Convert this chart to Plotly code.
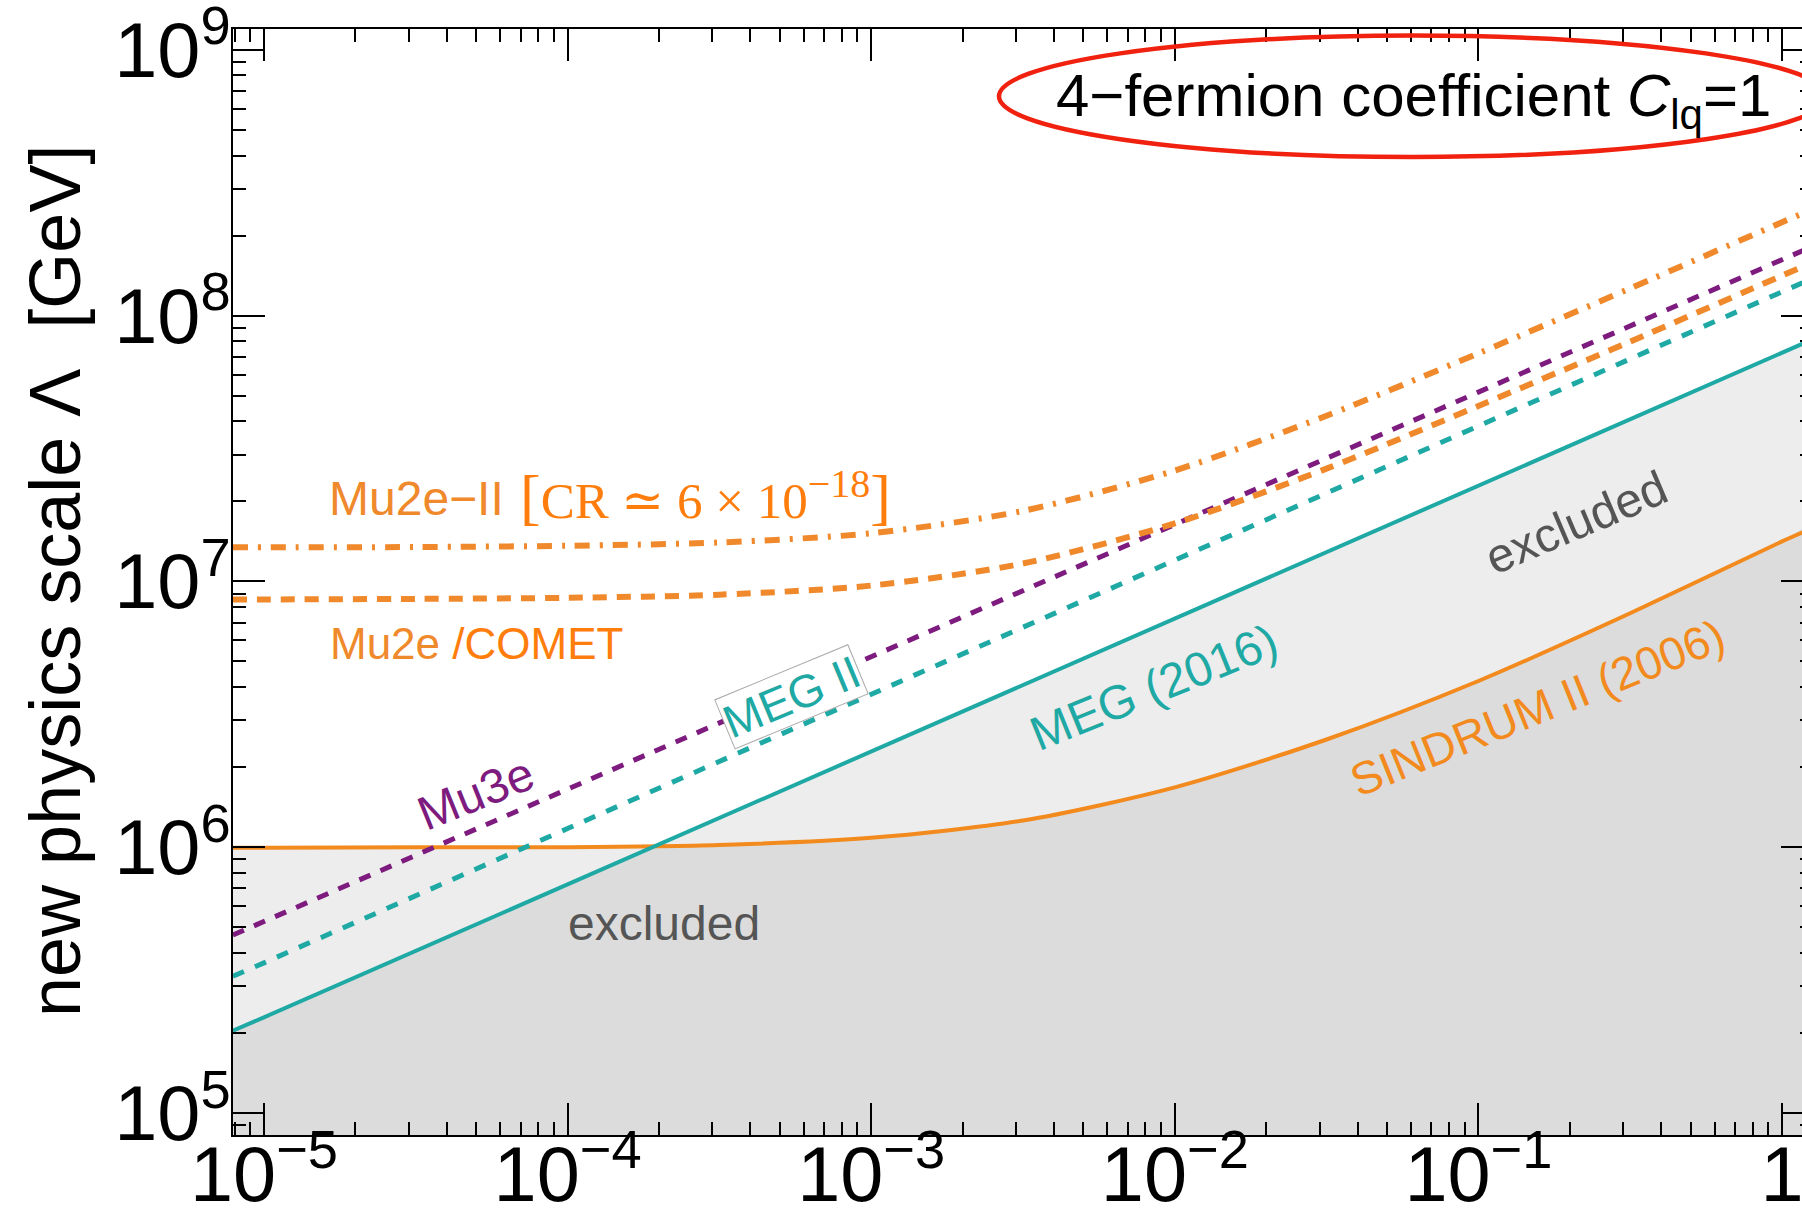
import plotly.graph_objects as go

# ---------------- data ----------------
# curved bounds (x = horizontal axis value, y = Lambda in GeV)
grid_x = [7.9e-6, 1e-5, 3.16e-5, 1e-4, 3.16e-4, 1e-3, 3.16e-3, 1e-2, 3.16e-2, 1e-1, 3.16e-1, 1.0, 1.26]
mu2e_comet_y = [8.55e6, 8.55e6, 8.59e6, 8.67e6, 8.91e6, 9.64e6, 1.167e7, 1.652e7, 2.655e7, 4.57e7, 7.98e7, 1.413e8, 1.585e8]
mu2e_ii_y = [1.343e7, 1.343e7, 1.346e7, 1.361e7, 1.400e7, 1.517e7, 1.841e7, 2.612e7, 4.198e7, 7.21e7, 1.265e8, 2.244e8, 2.512e8]
sindrum_y = [9.95e5, 9.95e5, 9.98e5, 1.0e6, 1.019e6, 1.084e6, 1.259e6, 1.679e6, 2.541e6, 4.217e6, 7.586e6, 1.413e7, 1.585e7]

# straight (power-law) bounds
line_x = [7.9e-6, 1e-5, 1e-4, 1e-3, 1e-2, 1e-1, 1.0, 1.26]
meg_y = [2.04e5, 2.29e5, 7.24e5, 2.29e6, 7.24e6, 2.29e7, 7.24e7, 8.13e7]
meg2_y = [3.27e5, 3.67e5, 1.175e6, 3.76e6, 1.202e7, 3.85e7, 1.23e8, 1.38e8]
mu3e_y = [4.67e5, 5.25e5, 1.652e6, 5.2e6, 1.637e7, 5.15e7, 1.622e8, 1.82e8]

fill_floor = 1e4          # below the visible range, closes the excluded regions
x_range_log = [-5.102, 0.102]
y_range_log = [4.917, 9.078]

# ---------------- styling ----------------
TEAL = "#1fa9a4"
PURPLE = "#7d1b7e"
ORANGE = "#f0892b"
ORANGE2 = "#ff7d0c"
SIND = "#f28a1e"
GREY_TXT = "#555555"
SANS = "Liberation Sans, Arial, Helvetica, sans-serif"
SERIF = "Liberation Serif, Times New Roman, DejaVu Serif, serif"

W_FIG, H_FIG = 1835, 1216
ML, MR, MT, MB = 233, 22, 29, 81
PW = W_FIG - ML - MR
PH = H_FIG - MT - MB


def px(X):
    return (X - ML) / PW


def py(Y):
    return (H_FIG - MB - Y) / PH


fig = go.Figure()

# excluded regions (translucent grey, overlap gives the darker tone)
fig.add_trace(go.Scatter(
    x=line_x + [line_x[-1], line_x[0]], y=meg_y + [fill_floor, fill_floor],
    fill="toself", fillcolor="rgba(0,0,0,0.07)", line=dict(width=0),
    mode="lines", hoverinfo="skip", showlegend=False))
fig.add_trace(go.Scatter(
    x=grid_x + [grid_x[-1], grid_x[0]], y=sindrum_y + [fill_floor, fill_floor],
    fill="toself", fillcolor="rgba(0,0,0,0.07)", line=dict(width=0, shape="spline"),
    mode="lines", hoverinfo="skip", showlegend=False))

# current limits
fig.add_trace(go.Scatter(x=grid_x, y=sindrum_y, mode="lines", showlegend=False,
                         line=dict(color=SIND, width=4, shape="spline", smoothing=0.8)))
fig.add_trace(go.Scatter(x=line_x, y=meg_y, mode="lines", showlegend=False,
                         line=dict(color=TEAL, width=4)))

# future sensitivities
fig.add_trace(go.Scatter(x=line_x, y=meg2_y, mode="lines", showlegend=False,
                         line=dict(color=TEAL, width=5, dash="12px,12px")))
fig.add_trace(go.Scatter(x=line_x, y=mu3e_y, mode="lines", showlegend=False,
                         line=dict(color=PURPLE, width=5, dash="12px,11px")))
fig.add_trace(go.Scatter(x=grid_x, y=mu2e_comet_y, mode="lines", showlegend=False,
                         line=dict(color=ORANGE, width=6, dash="14px,10px",
                                   shape="spline", smoothing=0.8)))
fig.add_trace(go.Scatter(x=grid_x, y=mu2e_ii_y, mode="lines", showlegend=False,
                         line=dict(color=ORANGE, width=6, dash="15px,10px,3px,10px",
                                   shape="spline", smoothing=0.8)))

axis_common = dict(
    type="log", showline=True, linecolor="black", linewidth=2, mirror="allticks",
    ticks="inside", ticklen=32, tickwidth=2, tickcolor="black",
    dtick=1, exponentformat="power", showgrid=False, zeroline=False,
    automargin=False, ticklabeloverflow="allow",
    tickfont=dict(family=SANS, size=62, color="black"),
    minor=dict(ticks="inside", ticklen=13, tickwidth=2, tickcolor="black",
               dtick="D1", showgrid=False),
)

fig.update_layout(
    width=W_FIG, height=H_FIG,
    margin=dict(l=ML, r=MR, t=MT, b=MB, autoexpand=False),
    paper_bgcolor="white", plot_bgcolor="white",
    xaxis=dict(range=x_range_log, ticklabelstandoff=-26, **axis_common),
    yaxis=dict(range=y_range_log, ticklabelstandoff=-12, **axis_common),
    showlegend=False,
)

ann = []
# y-axis title
ann.append(dict(text="new physics scale Λ\u00a0\u00a0[GeV]", x=px(55), y=py(581),
                xref="paper", yref="paper", showarrow=False, textangle=-90,
                xanchor="center", yanchor="middle",
                font=dict(family=SANS, size=72, color="black")))
# headline in ellipse
ann.append(dict(text="4\u2212fermion coefficient <i>C</i><sub>lq</sub>=1", x=px(1413), y=py(100),
                xref="paper", yref="paper", showarrow=False,
                xanchor="center", yanchor="middle",
                font=dict(family=SANS, size=60, color="black")))
# Mu2e-II
ann.append(dict(text="Mu2e\u2212II", x=px(327), y=py(498), xref="paper", yref="paper",
                showarrow=False, xanchor="left", yanchor="middle",
                font=dict(family=SANS, size=48, color=ORANGE)))
ann.append(dict(text="<span style=\"font-size:62px\">[</span>CR \u2243 6 \u00d7 10"
                     "<sup><span style=\"font-size:40px\">\u221218</span></sup>"
                     "<span style=\"font-size:62px\">]</span>",
                x=px(518), y=py(496),
                xref="paper", yref="paper", showarrow=False, xanchor="left", yanchor="middle",
                font=dict(family=SERIF, size=51, color=ORANGE2)))
# Mu2e / COMET
ann.append(dict(text="Mu2e <span style=\"color:%s\">/COMET</span>" % ORANGE2,
                x=px(328), y=py(643), xref="paper", yref="paper",
                showarrow=False, xanchor="left", yanchor="middle",
                font=dict(family=SANS, size=44, color=ORANGE)))
# Mu3e
ann.append(dict(text="Mu3e", x=px(476), y=py(794), xref="paper", yref="paper",
                showarrow=False, textangle=-22, xanchor="center", yanchor="middle",
                font=dict(family=SANS, size=48, color=PURPLE)))
# MEG II (boxed)
ann.append(dict(text="MEG II", x=px(791), y=py(697), xref="paper", yref="paper",
                showarrow=False, textangle=-22.5, xanchor="center", yanchor="middle",
                bgcolor="white", bordercolor="#aaaaaa", borderwidth=1, borderpad=0,
                font=dict(family=SANS, size=46, color=TEAL)))
# MEG (2016)
ann.append(dict(text="MEG (2016)", x=px(1153), y=py(687), xref="paper", yref="paper",
                showarrow=False, textangle=-22, xanchor="center", yanchor="middle",
                font=dict(family=SANS, size=48, color=TEAL)))
# SINDRUM II (2006)
ann.append(dict(text="SINDRUM II (2006)", x=px(1537), y=py(708), xref="paper", yref="paper",
                showarrow=False, textangle=-22, xanchor="center", yanchor="middle",
                font=dict(family=SANS, size=46, color=SIND)))
# excluded labels
ann.append(dict(text="excluded", x=px(664), y=py(923), xref="paper", yref="paper",
                showarrow=False, xanchor="center", yanchor="middle",
                font=dict(family=SANS, size=48, color=GREY_TXT)))
ann.append(dict(text="excluded", x=px(1576), y=py(522), xref="paper", yref="paper",
                showarrow=False, textangle=-23, xanchor="center", yanchor="middle",
                font=dict(family=SANS, size=48, color=GREY_TXT)))

fig.update_layout(annotations=ann)

# red ellipse around the headline
fig.add_shape(type="circle", xref="paper", yref="paper",
              x0=px(999), x1=px(1827), y0=py(157), y1=py(35.6),
              line=dict(color="#f0220f", width=4.5), layer="above")

fig.write_html("out.html")
